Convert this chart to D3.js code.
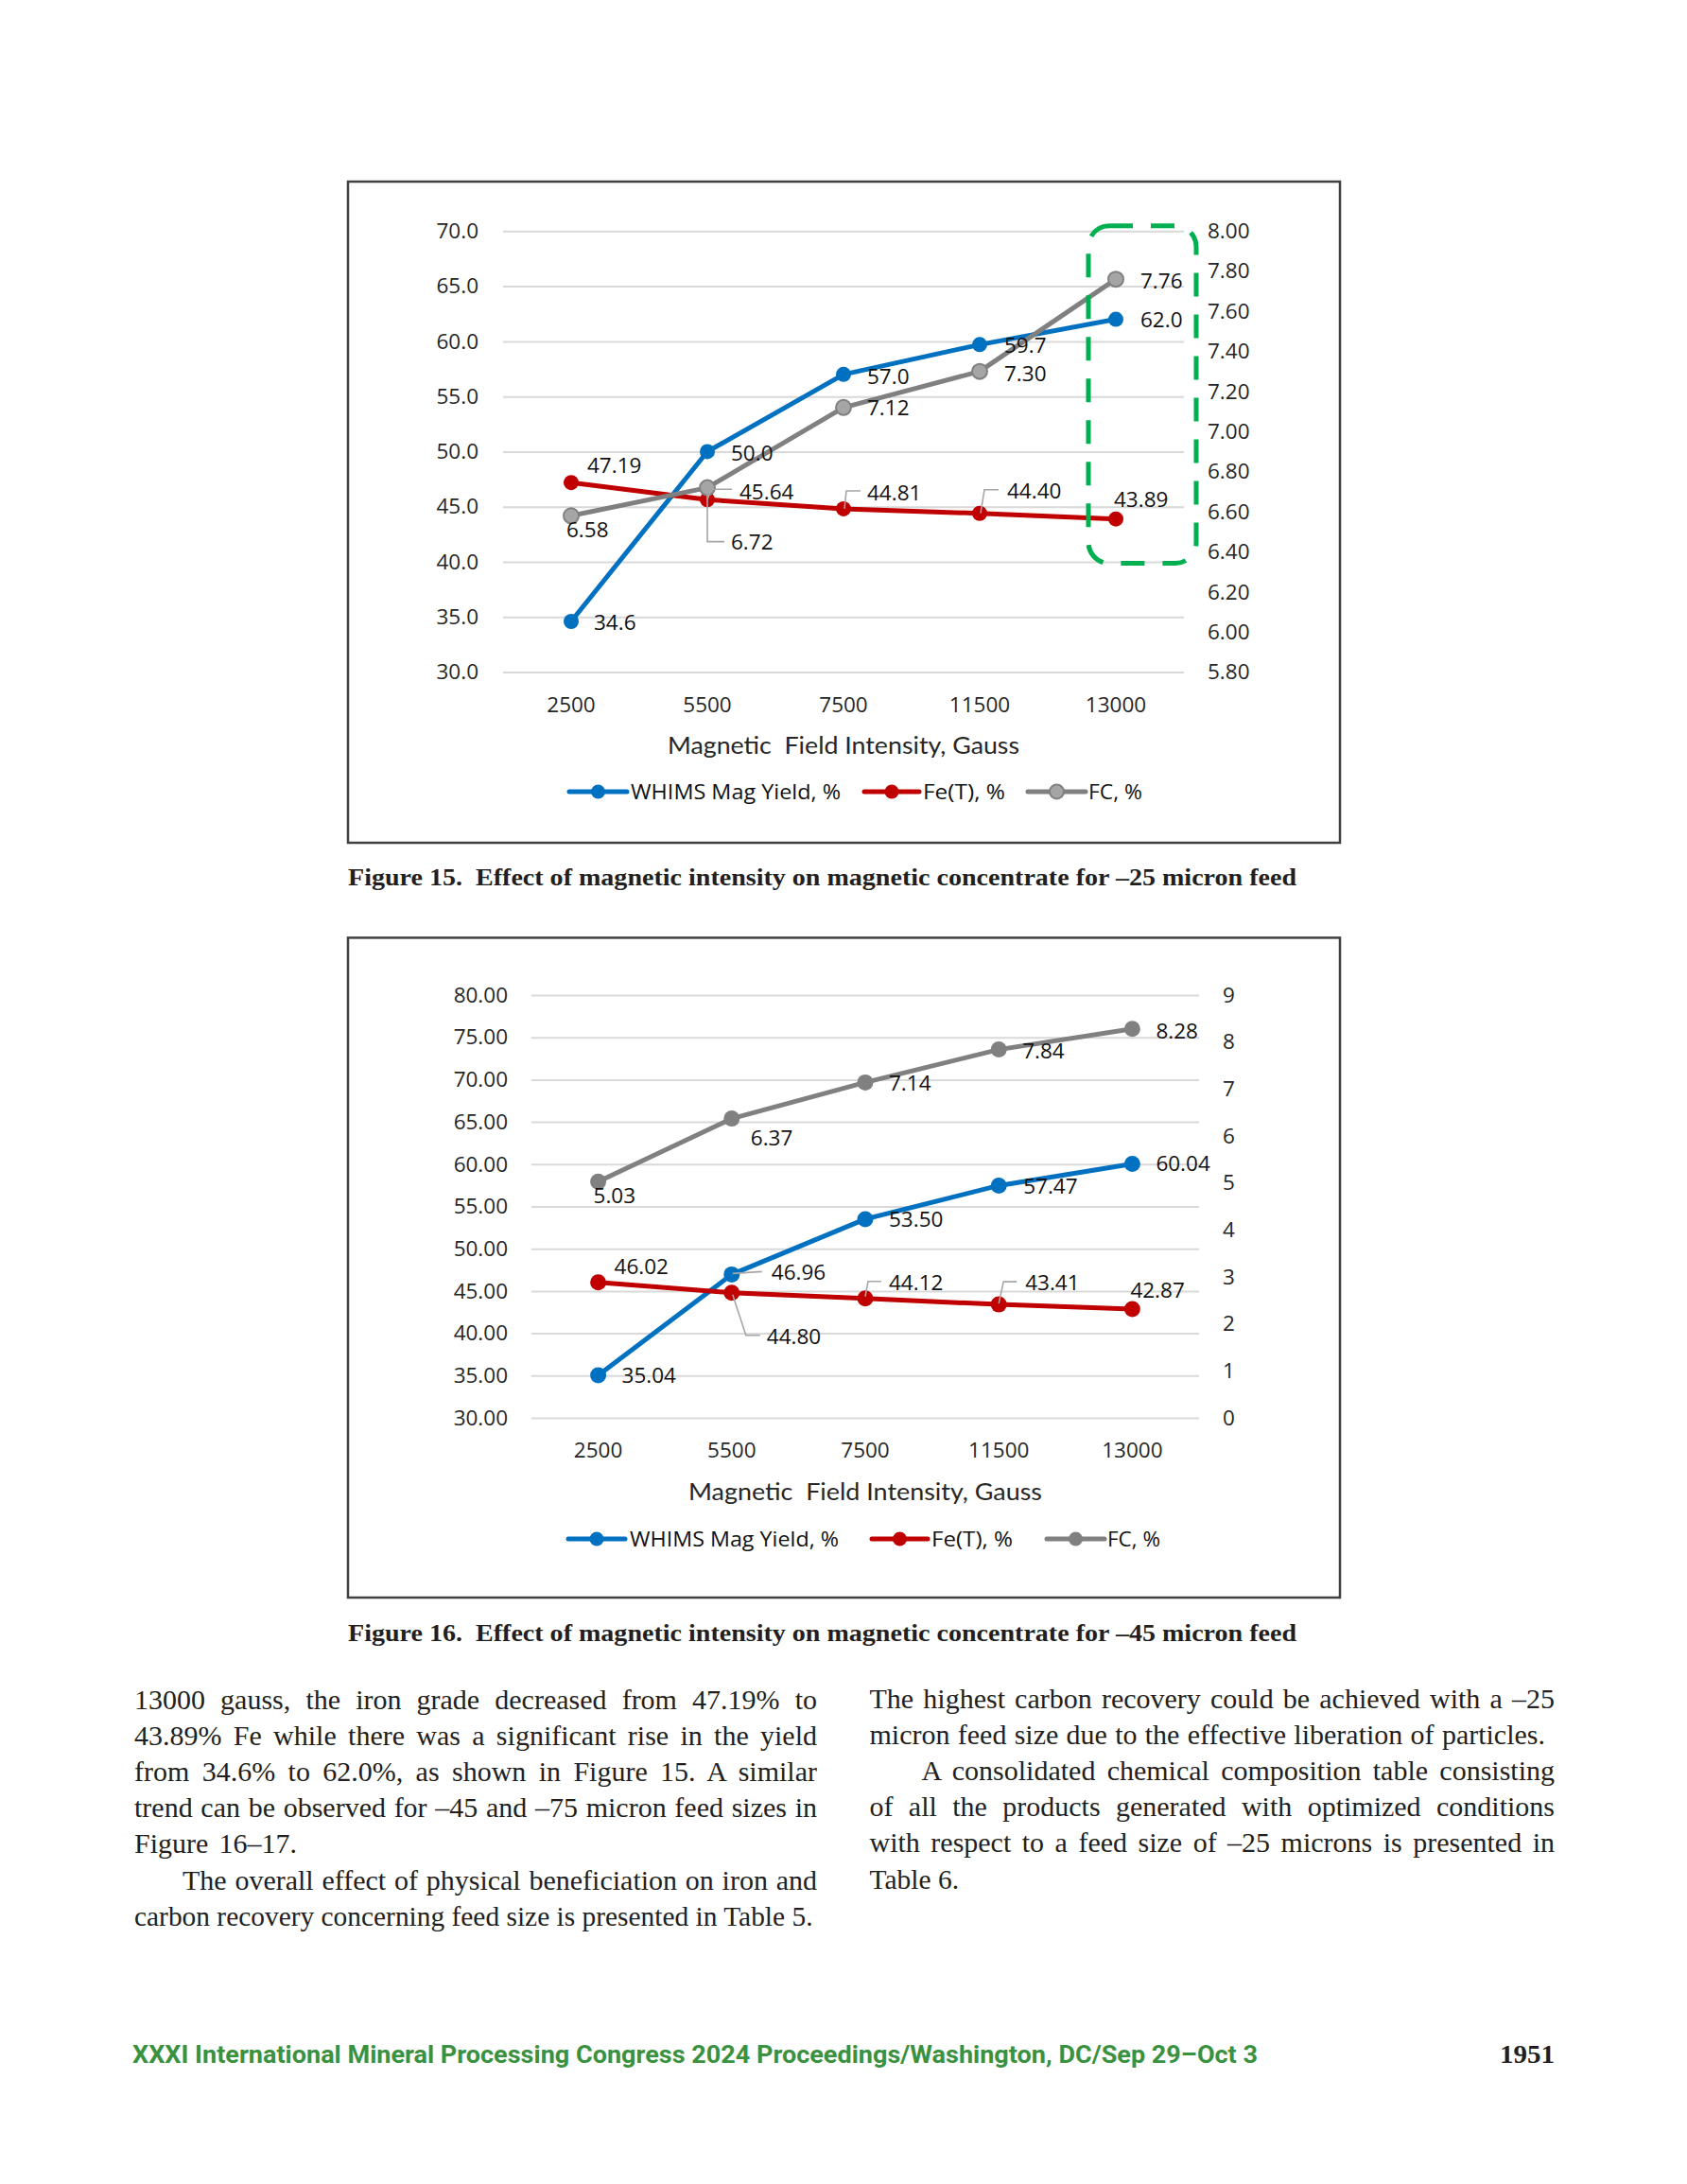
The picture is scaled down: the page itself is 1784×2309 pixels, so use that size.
<!DOCTYPE html>
<html><head><meta charset="utf-8">
<script src="https://cdn.jsdelivr.net/npm/d3@7"></script>
<style>
html,body{margin:0;padding:0;background:#fff;}
svg{display:block;}
</style></head><body>
<svg id="page" width="1784" height="2309"></svg>
<script>
// ---------------- DATA ----------------
const fieldIntensity = ["2500", "5500", "7500", "11500", "13000"];
const seriesNames = ["WHIMS Mag Yield, %", "Fe(T), %", "FC, %"];

const fig15Yield = [34.6, 50.0, 57.0, 59.7, 62.0];
const fig15Fe    = [47.19, 45.64, 44.81, 44.40, 43.89];
const fig15FC    = [6.58, 6.72, 7.12, 7.30, 7.76];
const fig15LeftTicks  = [30, 35, 40, 45, 50, 55, 60, 65, 70];
const fig15RightTicks = [5.8, 6.0, 6.2, 6.4, 6.6, 6.8, 7.0, 7.2, 7.4, 7.6, 7.8, 8.0];

const fig16Yield = [35.04, 46.96, 53.50, 57.47, 60.04];
const fig16Fe    = [46.02, 44.80, 44.12, 43.41, 42.87];
const fig16FC    = [5.03, 6.37, 7.14, 7.84, 8.28];
const fig16LeftTicks  = [30, 35, 40, 45, 50, 55, 60, 65, 70, 75, 80];
const fig16RightTicks = [0, 1, 2, 3, 4, 5, 6, 7, 8, 9];

const xAxisTitle = "Magnetic  Field Intensity, Gauss";
const caption15 = "Figure 15.  Effect of magnetic intensity on magnetic concentrate for \u201325 micron feed";
const caption16 = "Figure 16.  Effect of magnetic intensity on magnetic concentrate for \u201345 micron feed";

const leftColumnLines = [
  "13000 gauss, the iron grade decreased from 47.19% to",
  "43.89% Fe while there was a significant rise in the yield",
  "from 34.6% to 62.0%, as shown in Figure 15. A similar",
  "trend can be observed for \u201345 and \u201375 micron feed sizes in",
  "Figure 16\u201317.",
  "The overall effect of physical beneficiation on iron and",
  "carbon recovery concerning feed size is presented in Table 5."
];
const rightColumnLines = [
  "The highest carbon recovery could be achieved with a \u201325",
  "micron feed size due to the effective liberation of particles.",
  "A consolidated chemical composition table consisting",
  "of all the products generated with optimized conditions",
  "with respect to a feed size of \u201325 microns is presented in",
  "Table 6."
];
const footerText = "XXXI International Mineral Processing Congress 2024 Proceedings/Washington, DC/Sep 29\u2013Oct 3";
const pageNumber = "1951";

// ---------------- LAYOUT / STYLE ----------------
const COLORS = {yield: "#0070C0", fe: "#C00000", fc: "#808080", fcFill: "#A5A5A5"};
const CHART_FONT = "'Open Sans', 'DejaVu Sans', sans-serif";
const LABEL_SIZE = 22.5;

const fig15Layout = {
  box: [368, 192, 1417, 891],
  plotX: [532, 1252], plotY: [710.6, 244.3],
  leftDomain: [30, 70], rightDomain: [5.8, 8.0],
  leftFmt: ".1f", rightFmt: ".2f", yieldFmt: ".1f", feFmt: ".2f", fcFmt: ".2f",
  leftPad: 26, rightPad: 25, bottomPad: 26.4,
  titleY: 788, titleW: 372,
  legendY: 837,
  legend: [{x0: 602, x1: 663, tx: 667, w: 222}, {x0: 914, x1: 972, tx: 976, w: 87}, {x0: 1087, x1: 1148, tx: 1151, w: 57}],
  captionY: 927, captionW: 1003,
  fcHollow: true, markerR: 8,
  labels: {
    yield: [[24, 1], [25, 2], [25, 2], [26, 1], [26, 1]],
    fe:    [[17, -18], [34, -8], [25, -17], [29, -24], [-2, -21]],
    fc:    [[-5, 15], [25, 58], [25, 0], [26, 2], [26, 2]]
  },
  leaders: {
    yield: [null, null, null, null, null],
    fe: [null, [[0, 0], [4, -11], [26, -11]], [[1, 0], [3, -19], [18, -19]], [[1, 0], [5, -25], [20, -25]], null],
    fc: [null, [[0, 0], [0, 57], [18, 57]], null, null, null]
  },
  highlight: true
};

const fig16Layout = {
  box: [368, 991.4, 1417, 1689],
  plotX: [562, 1268], plotY: [1499, 1052],
  leftDomain: [30, 80], rightDomain: [0, 9],
  leftFmt: ".2f", rightFmt: "d", yieldFmt: ".2f", feFmt: ".2f", fcFmt: ".2f",
  leftPad: 25, rightPad: 25, bottomPad: 26,
  titleY: 1577, titleW: 374,
  legendY: 1627,
  legend: [{x0: 601, x1: 661, tx: 666, w: 221}, {x0: 922, x1: 981, tx: 985, w: 86}, {x0: 1107, x1: 1168, tx: 1171, w: 56}],
  captionY: 1726, captionW: 1003,
  fcHollow: false, markerR: 8.5,
  labels: {
    yield: [[25, 0], [42, -2], [25, 0], [26, 1], [25, 0]],
    fe:    [[17, -17], [37, 46], [25, -17], [28, -23], [-2, -20]],
    fc:    [[-5, 15], [20, 21], [25, 1], [25, 2], [25, 2]]
  },
  leaders: {
    yield: [null, [[1, -1], [32, -3]], null, null, null],
    fe: [null, [[1, 2], [15, 45], [30, 45]], [[0, -2], [3, -18], [17, -18]], [[0, -1], [5, -24], [19, -24]], null],
    fc: [null, null, null, null, null]
  },
  highlight: false
};

const svg = d3.select("#page");
svg.append("rect").attr("width", 1784).attr("height", 2309).attr("fill", "#fff");

function drawChart(cfg, yieldV, feV, fcV, leftTicks, rightTicks, caption) {
  const g = svg.append("g");
  const [bx0, by0, bx1, by1] = cfg.box;
  g.append("rect").attr("x", bx0).attr("y", by0).attr("width", bx1 - bx0).attr("height", by1 - by0)
    .attr("fill", "#fff").attr("stroke", "#404040").attr("stroke-width", 2.5);

  const x = d3.scaleBand().domain(fieldIntensity).range(cfg.plotX);
  const yL = d3.scaleLinear().domain(cfg.leftDomain).range(cfg.plotY);
  const yR = d3.scaleLinear().domain(cfg.rightDomain).range(cfg.plotY);
  const cx = d => x(d) + x.bandwidth() / 2;
  const plotW = cfg.plotX[1] - cfg.plotX[0];

  // gridlines
  g.append("g").attr("transform", `translate(${cfg.plotX[0]},0)`)
    .call(d3.axisLeft(yL).tickValues(leftTicks).tickSize(-plotW).tickFormat(""))
    .call(a => a.select(".domain").remove())
    .selectAll("line").attr("stroke", "#d9d9d9").attr("stroke-width", 2);

  const styleAxis = a => {
    a.select(".domain").remove();
    a.attr("font-family", CHART_FONT).attr("font-size", LABEL_SIZE);
    a.selectAll("text").attr("fill", "#262626");
  };
  g.append("g").attr("transform", `translate(${cfg.plotX[0]},0)`)
    .call(d3.axisLeft(yL).tickValues(leftTicks).tickSize(0).tickPadding(cfg.leftPad).tickFormat(d3.format(cfg.leftFmt)))
    .call(styleAxis);
  g.append("g").attr("transform", `translate(${cfg.plotX[1]},0)`)
    .call(d3.axisRight(yR).tickValues(rightTicks).tickSize(0).tickPadding(cfg.rightPad).tickFormat(d3.format(cfg.rightFmt)))
    .call(styleAxis);
  g.append("g").attr("transform", `translate(0,${cfg.plotY[0]})`)
    .call(d3.axisBottom(x).tickSize(0).tickPadding(cfg.bottomPad))
    .call(styleAxis);

  // axis title
  g.append("text").attr("x", (cfg.plotX[0] + cfg.plotX[1]) / 2).attr("y", cfg.titleY).attr("dy", "0.35em")
    .attr("text-anchor", "middle").attr("font-family", "Lato, 'Open Sans', sans-serif").attr("font-size", 24.5)
    .attr("fill", "#262626").attr("textLength", cfg.titleW).attr("lengthAdjust", "spacingAndGlyphs")
    .style("white-space", "pre")
    .text(xAxisTitle);

  const series = [
    {key: "yield", vals: yieldV, y: yL, color: COLORS.yield, fill: COLORS.yield, fmt: cfg.yieldFmt},
    {key: "fe", vals: feV, y: yL, color: COLORS.fe, fill: COLORS.fe, fmt: cfg.feFmt},
    {key: "fc", vals: fcV, y: yR, color: COLORS.fc, fill: cfg.fcHollow ? COLORS.fcFill : COLORS.fc, fmt: cfg.fcFmt}
  ];

  const line = (ys) => d3.line().x((d, i) => cx(fieldIntensity[i])).y(d => ys(d));
  series.forEach(s => {
    g.append("path").datum(s.vals).attr("d", line(s.y)).attr("fill", "none")
      .attr("stroke", s.color).attr("stroke-width", 5).attr("stroke-linejoin", "round").attr("stroke-linecap", "round");
    g.selectAll(null).data(s.vals).enter().append("circle")
      .attr("cx", (d, i) => cx(fieldIntensity[i])).attr("cy", d => s.y(d)).attr("r", cfg.markerR)
      .attr("fill", s.fill).attr("stroke", s.color).attr("stroke-width", cfg.fcHollow && s.key === "fc" ? 2 : 0);
  });

  // highlight box (Figure 15)
  if (cfg.highlight) {
    const hx0 = cx("13000") - 29, hx1 = cfg.plotX[1] + 13;
    const hy0 = yR(8.0) - 5.5, hy1 = yL(40) + 1.5;
    g.append("rect").attr("x", hx0).attr("y", hy0).attr("width", hx1 - hx0).attr("height", hy1 - hy0)
      .attr("rx", 22).attr("ry", 22).attr("fill", "none").attr("stroke", "#00B050")
      .attr("stroke-width", 5).attr("stroke-dasharray", "25,19");
  }

  // leader lines and data labels
  series.forEach(s => {
    s.vals.forEach((v, i) => {
      const px = cx(fieldIntensity[i]), py = s.y(v);
      const ld = cfg.leaders[s.key][i];
      if (ld) {
        g.append("polyline").attr("points", ld.map(p => `${px + p[0]},${py + p[1]}`).join(" "))
          .attr("fill", "none").attr("stroke", "#a6a6a6").attr("stroke-width", 1.6);
      }
      const off = cfg.labels[s.key][i];
      g.append("text").attr("x", px + off[0]).attr("y", py + off[1]).attr("dy", "0.35em")
        .attr("font-family", CHART_FONT).attr("font-size", LABEL_SIZE).attr("fill", "#111")
        .text(d3.format(s.fmt)(v));
    });
  });

  // legend
  series.forEach((s, i) => {
    const L = cfg.legend[i];
    g.append("line").attr("x1", L.x0).attr("x2", L.x1).attr("y1", cfg.legendY).attr("y2", cfg.legendY)
      .attr("stroke", s.color).attr("stroke-width", 5).attr("stroke-linecap", "round");
    g.append("circle").attr("cx", (L.x0 + L.x1) / 2).attr("cy", cfg.legendY).attr("r", 7.5)
      .attr("fill", s.fill).attr("stroke", s.color).attr("stroke-width", cfg.fcHollow && s.key === "fc" ? 2 : 0);
    g.append("text").attr("x", L.tx).attr("y", cfg.legendY).attr("dy", "0.35em")
      .attr("font-family", CHART_FONT).attr("font-size", 22).attr("fill", "#111")
      .attr("textLength", L.w).attr("lengthAdjust", "spacingAndGlyphs")
      .text(seriesNames[i]);
  });

  // caption
  svg.append("text").attr("x", bx0).attr("y", cfg.captionY).attr("dy", "0.35em")
    .attr("font-family", "'Liberation Serif', serif").attr("font-weight", "bold").attr("font-size", 25.5)
    .attr("fill", "#231f20").attr("textLength", cfg.captionW).attr("lengthAdjust", "spacingAndGlyphs")
    .style("white-space", "pre")
    .text(caption);
}

drawChart(fig15Layout, fig15Yield, fig15Fe, fig15FC, fig15LeftTicks, fig15RightTicks, caption15);
drawChart(fig16Layout, fig16Yield, fig16Fe, fig16FC, fig16LeftTicks, fig16RightTicks, caption16);

// ---------------- BODY TEXT ----------------
const bodyG = svg.append("g").attr("font-family", "'Liberation Serif', serif").attr("font-size", 30).attr("fill", "#231f20");
function drawBodyLine(text, x, y, target) {
  const t = bodyG.append("text").attr("x", x).attr("y", y).text(text);
  const w = t.node().getComputedTextLength();
  if (w > target) {
    t.attr("textLength", target).attr("lengthAdjust", "spacingAndGlyphs");
  } else {
    const n = (text.match(/ /g) || []).length;
    if (n) t.style("word-spacing", ((target - w) / n) + "px");
  }
}
const colL = {x: 142, w: 722, indent: 51}, colR = {x: 919.5, w: 724.5, indent: 55};
const baseY = 1807, lineH = 38.1;
// [indented?, target width or null for full column]
const leftSpec = [[0, null], [0, null], [0, null], [0, null], [0, 172], [1, null], [0, 717.5]];
leftColumnLines.forEach((s, i) => {
  const ind = leftSpec[i][0] ? colL.indent : 0;
  const target = leftSpec[i][1] !== null ? leftSpec[i][1] : colL.w - ind;
  drawBodyLine(s, colL.x + ind, baseY + i * lineH, target);
});
const rightSpec = [[0, null], [0, 714.5], [1, null], [0, null], [0, null], [0, 94.5]];
rightColumnLines.forEach((s, i) => {
  const ind = rightSpec[i][0] ? colR.indent : 0;
  const target = rightSpec[i][1] !== null ? rightSpec[i][1] : colR.w - ind;
  drawBodyLine(s, colR.x + ind, baseY - 1 + i * lineH, target);
});

// ---------------- FOOTER ----------------
svg.append("text").attr("x", 140).attr("y", 2172).attr("dy", "0.35em")
  .attr("font-family", "Roboto, 'Liberation Sans', sans-serif").attr("font-weight", "bold").attr("font-size", 25)
  .attr("fill", "#3a9140").attr("textLength", 1190).attr("lengthAdjust", "spacingAndGlyphs")
  .text(footerText);
svg.append("text").attr("x", 1644).attr("y", 2172).attr("dy", "0.35em").attr("text-anchor", "end")
  .attr("font-family", "'Liberation Serif', serif").attr("font-weight", "bold").attr("font-size", 27)
  .attr("fill", "#231f20").attr("textLength", 58).attr("lengthAdjust", "spacingAndGlyphs")
  .text(pageNumber);
</script>
</body></html>
